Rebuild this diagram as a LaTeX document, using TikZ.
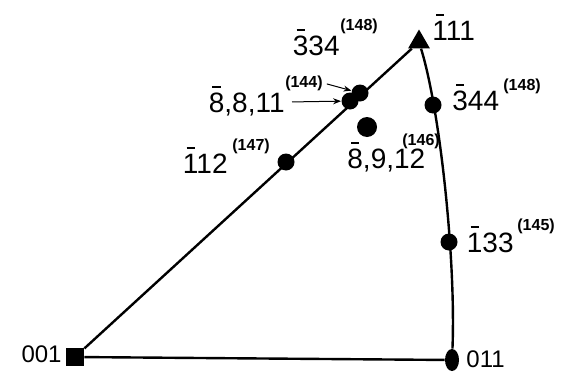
\documentclass[tikz,border=0pt]{standalone}
\usepackage{fontspec}
\setmainfont{Liberation Sans}
\usepackage{tikz}
\usetikzlibrary{shapes.geometric,arrows.meta}

% digit with a bar over it
\newcommand{\nb}[1]{\leavevmode\rlap{\hspace{0.13em}\raisebox{0.84em}{\rule{0.3em}{0.09em}}}#1}

\begin{document}
\begin{tikzpicture}[
    x=0.5pt, y=-0.5pt,
    edge/.style={line width=1.2pt},
    dot/.style={circle, fill, inner sep=0pt, minimum size=8.5pt},
    lbl/.style={anchor=base west, inner sep=0pt, font=\fontsize{14}{15}\selectfont},
    pole/.style={lbl, font=\fontsize{12}{13}\selectfont},
    idx/.style={anchor=base west, inner sep=0pt, font=\fontsize{8}{9}\selectfont\bfseries},
    arr/.style={-{Stealth[length=4pt,width=3pt]}, line width=0.5pt, shorten <=2pt}
]
    \useasboundingbox (0,0) rectangle (561,375);

    % poles of the triangle
    \node[rectangle, fill, inner sep=0pt, minimum size=9pt] (P001) at (75,357) {};
    \node[ellipse, fill, inner sep=0pt, minimum width=7pt, minimum height=11pt] (P011) at (452,360) {};
    \node[regular polygon, regular polygon sides=3, fill, inner sep=0pt, minimum size=12.5pt] (P111) at (419,42) {};

    \draw[edge] (P001) -- (P111);
    \draw[edge] (P001) -- (P011);
    \draw[edge] (P111) .. controls (440,110) and (456,260) .. (P011);

    % measured orientations
    \node[dot] (D112) at (286,162) {};
    \node[dot] (D8811a) at (350,101) {};
    \node[dot] (D8811b) at (360,93) {};
    \node[dot, minimum size=10pt] (D8912) at (367,127) {};
    \node[dot] (D344) at (433,105) {};
    \node[dot] (D133) at (449,242) {};

    % labels
    \node[pole, anchor=base east] (L001) at (62,362) {001};
    \node[pole] (L011) at (466,367) {011};
    \node[lbl] (L111) at (432,40) {\nb{1}11};
    \node[lbl, anchor=base east] (L334) at (340,55) {\nb{3}34};
    \node[idx] (I334) at (340,30) {(148)};
    \node[lbl, anchor=base east] (L8811) at (285,112) {\nb{8},8,11};
    \node[idx, anchor=base east] (I8811) at (323,87) {(144)};
    \node[lbl] (L344) at (452,110) {\nb{3}44};
    \node[idx] (I344) at (503,90) {(148)};
    \node[lbl, anchor=base east] (L112) at (228,173) {\nb{1}12};
    \node[idx] (I112) at (232,150) {(147)};
    \node[idx] (I8912) at (402,145) {(146)};
    \node[lbl] (L8912) at (347,168) {\nb{8},9,12};
    \node[lbl, anchor=base east] (L133) at (514,252) {\nb{1}33};
    \node[idx] (I133) at (517,230) {(145)};

    \coordinate (A8811) at (288,102);
    \draw[arr] (I8811.east) -- (D8811b);
    \draw[arr] (A8811) -- (D8811a);
\end{tikzpicture}
\end{document}
